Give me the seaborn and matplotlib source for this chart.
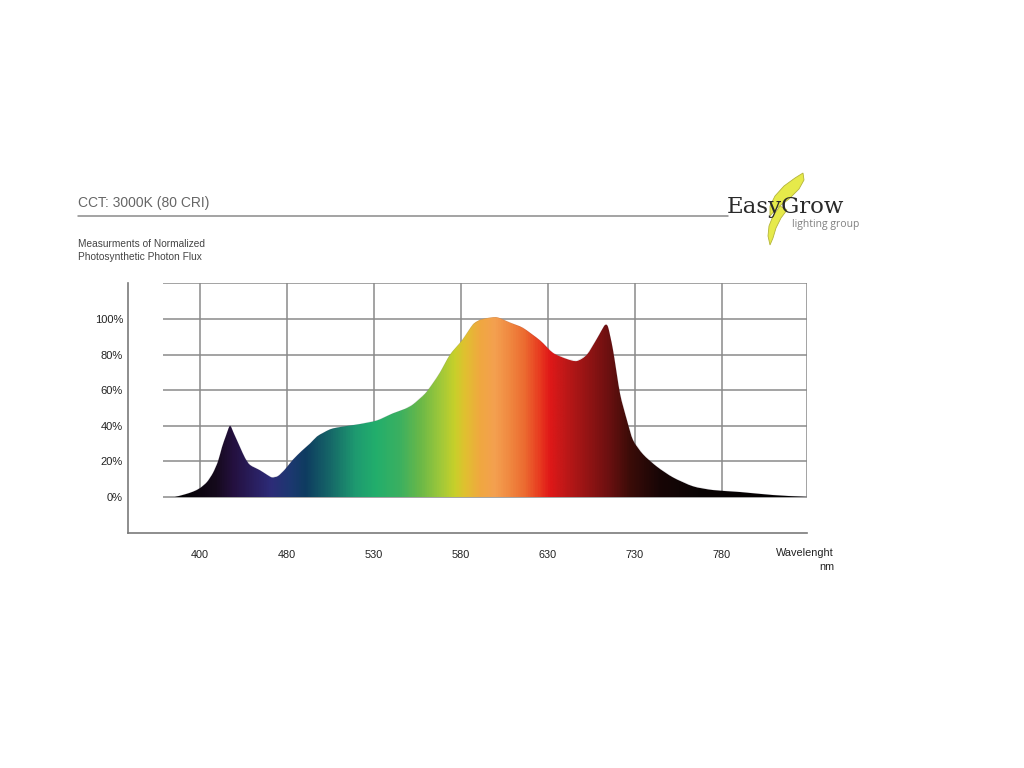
import numpy as np
import pandas as pd
import matplotlib
matplotlib.use("Agg")
import matplotlib.pyplot as plt
import seaborn as sns
from matplotlib.colors import LinearSegmentedColormap
from matplotlib.patches import Polygon, PathPatch
from matplotlib.path import Path

# ---------------- data ----------------
title = "CCT: 3000K (80 CRI)"
subtitle = ["Measurments of Normalized", "Photosynthetic Photon Flux"]
x_tick_labels = ["400", "480", "530", "580", "630", "730", "780"]
y_tick_values = [0, 20, 40, 60, 80, 100]
y_tick_labels = ["0%", "20%", "40%", "60%", "80%", "100%"]

# spectrum: position along the axis in grid-cell units (0 = '400' line, 1 = '480' line, ...)
curve_pos = [-0.287, -0.172, -0.080, 0.000, 0.080, 0.149, 0.207, 0.253, 0.299, 0.345,
             0.391, 0.460, 0.517, 0.575, 0.690, 0.770, 0.828, 0.897, 0.977, 1.069,
             1.172, 1.264, 1.345, 1.414, 1.494, 1.575, 1.701, 1.839, 2.034, 2.218,
             2.356, 2.448, 2.586, 2.678, 2.759, 2.874, 3.011, 3.138, 3.218, 3.299,
             3.414, 3.563, 3.713, 3.908, 4.057, 4.218, 4.333, 4.448, 4.563, 4.609,
             4.655, 4.690, 4.747, 4.828, 4.908, 4.977, 5.092, 5.253, 5.437, 5.667,
             5.897, 6.207, 6.586, 6.977]
curve_flux = [0, 1.5, 3, 5, 8.4, 13.5, 20, 28, 34.5, 40,
              35.5, 28, 22, 18, 15, 12.5, 11, 11.8, 15.5, 21,
              26, 30, 34, 36, 38, 39, 40, 41, 43, 47,
              49.5, 52, 58, 64, 70, 80, 88, 97, 99.5, 100.5,
              101, 98, 95, 88, 81, 77.5, 76.4, 80, 89, 93,
              96.6, 95.5, 82.6, 58, 43, 32, 24, 17, 11, 6,
              3.9, 2.8, 1.1, 0]

df = pd.DataFrame({"pos": curve_pos, "flux": curve_flux})

# ---------------- style ----------------
sns.set_style("white")
plt.rcParams["font.family"] = ["Liberation Sans", "DejaVu Sans"]

W, H = 1024, 768
fig = plt.figure(figsize=(W / 100, H / 100), dpi=100)
fig.patch.set_facecolor("white")

def fx(px):
    return px / W

def fy(py):
    return 1 - py / H

ax = fig.add_axes([fx(128), fy(533), (807 - 128) / W, (533 - 283) / H])
ax.set_facecolor("white")

x_right = 6.977
XL = (-0.8276, x_right)
YL = (-20.22, 120.22)
ax.set_xlim(*XL)
ax.set_ylim(*YL)

grid_c = "#8a8a8a"
for yv in y_tick_values + [120]:
    ax.hlines(yv, -0.425, x_right, color=grid_c, lw=1.1, zorder=1)
for xv in list(range(len(x_tick_labels))) + [x_right]:
    ax.vlines(xv, 0, 120, color=grid_c, lw=1.1, zorder=1)

# curve outline drawn with seaborn
sns.lineplot(data=df, x="pos", y="flux", ax=ax, color="#3a2a4a", lw=0.4,
             alpha=0.15, sort=True, estimator=None, zorder=3)

# smooth (Catmull-Rom rendered) outline of the same points for the gradient clip
px_ = np.asarray(curve_pos, float)
py_ = np.asarray(curve_flux, float)
P = np.column_stack([px_, py_])
verts = [tuple(P[0])]
codes = [Path.MOVETO]
n = len(P)
k = 0.8 / 6.0
for i in range(n - 1):
    p0 = P[i - 1] if i > 0 else P[i]
    p1 = P[i]
    p2 = P[i + 1]
    p3 = P[i + 2] if i + 2 < n else P[i + 1]
    c1 = p1 + (p2 - p0) * k
    c2 = p2 - (p3 - p1) * k
    c1[1] = max(c1[1], 0)
    c2[1] = max(c2[1], 0)
    verts += [tuple(c1), tuple(c2), tuple(p2)]
    codes += [Path.CURVE4] * 3
verts += [(P[-1][0], 0), (P[0][0], 0), tuple(P[0])]
codes += [Path.LINETO, Path.LINETO, Path.CLOSEPOLY]
clip_path = Path(verts, codes)

stop_pos = [-0.287, 0.172, 0.368, 0.632, 0.805, 1.034, 1.207, 1.494, 1.782, 2.011,
            2.299, 2.529, 2.759, 2.931, 3.046, 3.218, 3.391, 3.563, 3.736, 3.908,
            4.023, 4.195, 4.483, 4.713, 4.943, 5.287, 5.747, 6.977]
stop_col = ["#000000", "#150a1c", "#24103f", "#2a2062", "#2d2c78", "#1c3870", "#0e3c60",
            "#166868", "#1e9a70", "#22ae6c", "#3cb060", "#6ab848", "#9ec83a", "#c8d02a",
            "#e0c030", "#f0a840", "#f4a050", "#f08840", "#ec6a30", "#e83a20", "#e01818",
            "#c01818", "#901414", "#6a1010", "#3c0c08", "#180606", "#0a0404", "#000000"]
x0, x1 = stop_pos[0], stop_pos[-1]
cmap = LinearSegmentedColormap.from_list(
    "spec", [((p - x0) / (x1 - x0), c) for p, c in zip(stop_pos, stop_col)])
grad = np.linspace(0, 1, 1200).reshape(1, -1)
im = ax.imshow(grad, cmap=cmap, aspect="auto", extent=[x0, x1, 0, 105],
               interpolation="bilinear", zorder=2)
pp = PathPatch(clip_path, transform=ax.transData, facecolor="none", edgecolor="none")
ax.add_patch(pp)
im.set_clip_path(pp)

ax.set_xlim(*XL)
ax.set_ylim(*YL)

for s in ["top", "right"]:
    ax.spines[s].set_visible(False)
for s in ["left", "bottom"]:
    ax.spines[s].set_color("#7a7a7a")
    ax.spines[s].set_linewidth(1.2)

ax.set_yticks(y_tick_values + [120])
ax.set_yticklabels(y_tick_labels + [""])
ax.tick_params(axis="y", direction="in", length=10, width=1, color="#8a8a8a",
               pad=3.6, labelsize=8, labelcolor="#222222")

ax.set_xticks(list(range(len(x_tick_labels))) + [x_right])
ax.set_xticklabels(x_tick_labels + [""])
ax.set_xticks([-0.402], minor=True)
ax.tick_params(axis="x", which="major", direction="in", length=9.4, width=1,
               color="#7a7a7a", pad=12, labelsize=7.8, labelcolor="#222222")
ax.tick_params(axis="x", which="minor", direction="in", length=2, width=1,
               color="#7a7a7a")
ax.set_xlabel("")
ax.set_ylabel("")
ax.grid(False)

fig.text(fx(834), fy(553), "Wavelenght", ha="right", va="center", fontsize=7.8, color="#222222")
fig.text(fx(834), fy(567), "nm", ha="right", va="center", fontsize=7.8, color="#222222")

# header
fig.text(fx(78), fy(203), title, ha="left", va="center", fontsize=10, color="#666666")
fig.add_artist(plt.Line2D([fx(78), fx(728)], [fy(216), fy(216)], color="#8a8a8a", lw=1.1))
fig.text(fx(78), fy(244), subtitle[0], ha="left", va="center", fontsize=7.3, color="#444444")
fig.text(fx(78), fy(257), subtitle[1], ha="left", va="center", fontsize=7.3, color="#444444")

# logo
upper = [(803, 173), (795, 178), (784, 186), (775, 196), (770, 206), (770, 216),
         (777, 208), (789, 199), (799, 189), (804, 180)]
lower = [(780, 206), (773, 216), (769, 226), (768, 236), (770, 245), (773, 238),
         (776, 228), (781, 218), (787, 210)]
for shape in (upper, lower):
    fig.add_artist(Polygon([(fx(a), fy(b)) for a, b in shape], closed=True,
                           transform=fig.transFigure, facecolor="#e6ea4a",
                           edgecolor="#b4b43a", lw=0.6, zorder=5))
fig.text(fx(727), fy(207), "EasyGrow", ha="left", va="center", fontsize=16.5,
         family="DejaVu Serif", color="#2a2a2a", zorder=6)
fig.text(fx(792), fy(225), "lighting group", ha="left", va="center", fontsize=7.5,
         family=["Open Sans", "DejaVu Sans"], color="#808080", zorder=6)

fig.savefig("out.png", dpi=100, facecolor="white")
